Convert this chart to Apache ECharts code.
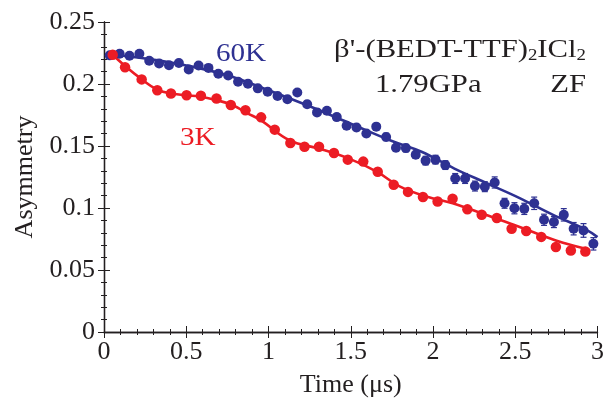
<!DOCTYPE html>
<html>
<head>
<meta charset="utf-8">
<script src="https://cdn.jsdelivr.net/npm/echarts@6/dist/echarts.min.js"></script>
<style>
  html, body { margin: 0; padding: 0; background: #fff; }
  #chart { width: 607px; height: 403px; }
</style>
</head>
<body>
<div id="chart"></div>
<script>
var SERIF = "'Liberation Serif', 'Times New Roman', serif";
var INK = '#231f20';
var BLUE = '#2e3192';
var RED = '#ec1c24';

// 60K data
var t60 = [0.035, 0.095, 0.155, 0.215, 0.275, 0.335, 0.395, 0.455, 0.515, 0.575,
           0.635, 0.695, 0.755, 0.815, 0.875, 0.935, 0.995, 1.055, 1.115, 1.175,
           1.235, 1.295, 1.355, 1.415, 1.475, 1.535, 1.595, 1.655, 1.715, 1.775,
           1.835, 1.895, 1.955, 2.015, 2.075, 2.135, 2.195, 2.255, 2.315, 2.375,
           2.435, 2.495, 2.555, 2.615, 2.675, 2.735, 2.795, 2.855, 2.915, 2.975];
var a60 = [0.2231, 0.2244, 0.2228, 0.2244, 0.2188, 0.2165, 0.2151, 0.2170, 0.2117, 0.2149,
           0.2130, 0.2082, 0.2069, 0.2018, 0.2002, 0.1965, 0.1938, 0.1903, 0.1877, 0.1931,
           0.1837, 0.1771, 0.1784, 0.1733, 0.1664, 0.1649, 0.1601, 0.1656, 0.1573, 0.1486,
           0.1483, 0.1430, 0.1382, 0.1390, 0.1346, 0.1238, 0.1238, 0.1177, 0.1172, 0.1206,
           0.1038, 0.0998, 0.0993, 0.1038, 0.0905, 0.0887, 0.0945, 0.0833, 0.0819, 0.0711];
var e60 = [0.002, 0.002, 0.002, 0.002, 0.002, 0.002, 0.002, 0.002, 0.002, 0.002,
           0.002, 0.002, 0.002, 0.002, 0.002, 0.002, 0.002, 0.002, 0.002, 0.002,
           0.0025, 0.0025, 0.0025, 0.0025, 0.0025, 0.0025, 0.0025, 0.0025, 0.003, 0.003,
           0.003, 0.003, 0.0035, 0.0035, 0.0035, 0.004, 0.004, 0.004, 0.004, 0.0045,
           0.004, 0.0045, 0.0045, 0.005, 0.0045, 0.0045, 0.005, 0.005, 0.0055, 0.005];

// 3K data
var t3 = [0.053, 0.128, 0.229, 0.324, 0.407, 0.502, 0.589, 0.684, 0.771, 0.860,
          0.955, 1.038, 1.133, 1.219, 1.307, 1.398, 1.482, 1.576, 1.664, 1.761,
          1.848, 1.939, 2.028, 2.119, 2.209, 2.296, 2.388, 2.478, 2.567, 2.658,
          2.747, 2.838, 2.926];
var a3 = [0.2236, 0.2135, 0.2037, 0.1949, 0.1923, 0.1909, 0.1905, 0.1883, 0.1831, 0.1789,
          0.1731, 0.1632, 0.1524, 0.1494, 0.1494, 0.1444, 0.1390, 0.1374, 0.1292, 0.1188,
          0.1130, 0.1089, 0.1052, 0.1074, 0.0989, 0.0945, 0.0919, 0.0832, 0.0815, 0.0767,
          0.0685, 0.0657, 0.0649];

// fit curves
var fit60T = [0.03, 0.25, 0.5, 0.75, 1.0, 1.25, 1.5, 1.75, 1.93, 2.13, 2.33, 2.53, 2.73, 2.93, 3.0];
var fit60A = [0.2240, 0.2205, 0.2150, 0.2070, 0.1950, 0.1820, 0.1680, 0.1540, 0.1454, 0.1318, 0.1198, 0.1078, 0.0945, 0.0825, 0.0765];
var fit3T = [0.04, 0.13, 0.23, 0.32, 0.40, 0.50, 0.58, 0.68, 0.78, 0.87, 0.95, 1.13, 1.31, 1.49, 1.66, 1.80, 1.96, 2.12, 2.32, 2.49, 2.65, 2.79, 2.95];
var fit3A = [0.2252, 0.2143, 0.2037, 0.1957, 0.1925, 0.1909, 0.1899, 0.1871, 0.1831, 0.1765, 0.1710, 0.1544, 0.1478, 0.1398, 0.1292, 0.1172, 0.1092, 0.1038, 0.0945, 0.0865, 0.0785, 0.0719, 0.0665];

function zip(xs, ys){
    return xs.map(function(x, i){ return [x, ys[i]]; });
}

var chart = echarts.init(document.getElementById('chart'), null, {renderer: 'canvas'});

var axisBase = {
    axisLine: {show: true, lineStyle: {color: INK, width: 1.3}},
    axisTick: {show: true, inside: true, length: 6, lineStyle: {color: INK, width: 1}},
    minorTick: {show: true, splitNumber: 5, length: 3, lineStyle: {color: INK, width: 1}},
    splitLine: {show: false},
    minorSplitLine: {show: false}
};

function mkX(pos, labels){
    return Object.assign({}, axisBase, {
        type: 'value', position: pos, min: 0, max: 3, interval: 0.5,
        axisLabel: {show: labels, color: INK, fontFamily: SERIF, fontSize: 26, margin: 7},
        name: labels ? 'Time (\u03bcs)' : '', nameLocation: 'middle', nameGap: 40,
        nameTextStyle: {color: INK, fontFamily: SERIF, fontSize: 26}
    });
}
function mkY(pos, labels){
    return Object.assign({}, axisBase, {
        type: 'value', position: pos, min: 0, max: 0.25, interval: 0.05,
        axisLabel: {show: labels, color: INK, fontFamily: SERIF, fontSize: 26, margin: 9},
        name: labels ? 'Asymmetry' : '', nameLocation: 'middle', nameGap: 62,
        nameTextStyle: {color: INK, fontFamily: SERIF, fontSize: 26}
    });
}

var errorSeries = {
    type: 'custom',
    data: t60.map(function(t, i){ return [t, a60[i], e60[i]]; }),
    renderItem: function(params, api){
        var x = api.value(0), y = api.value(1), e = api.value(2);
        var hi = api.coord([x, y + e]), lo = api.coord([x, y - e]);
        var cap = 3;
        var st = {stroke: BLUE, lineWidth: 1.2};
        return {type: 'group', children: [
            {type: 'line', shape: {x1: hi[0], y1: hi[1], x2: lo[0], y2: lo[1]}, style: st},
            {type: 'line', shape: {x1: hi[0] - cap, y1: hi[1], x2: hi[0] + cap, y2: hi[1]}, style: st},
            {type: 'line', shape: {x1: lo[0] - cap, y1: lo[1], x2: lo[0] + cap, y2: lo[1]}, style: st}
        ]};
    },
    silent: true, z: 3
};

var annFont = '26px ' + SERIF;
var stretch = 1.18;

var option = {
    backgroundColor: '#fff',
    animation: false,
    textStyle: {fontFamily: SERIF},
    grid: {left: 104, right: 9, top: 22, bottom: 68, containLabel: false},
    xAxis: [mkX('bottom', true), mkX('top', false)],
    yAxis: [mkY('left', true), mkY('right', false)],
    series: [
        {type: 'line', data: zip(fit60T, fit60A), smooth: 0.4, showSymbol: false,
         lineStyle: {color: BLUE, width: 2.6}, z: 2, silent: true},
        {type: 'line', data: zip(fit3T, fit3A), smooth: 0.4, showSymbol: false,
         lineStyle: {color: RED, width: 2.6}, z: 2, silent: true},
        errorSeries,
        {type: 'scatter', data: zip(t60, a60), symbol: 'circle', symbolSize: 10,
         itemStyle: {color: BLUE, opacity: 1}, z: 4},
        {type: 'scatter', data: zip(t3, a3), symbol: 'circle', symbolSize: 10.5,
         itemStyle: {color: RED, opacity: 1}, z: 4}
    ],
    graphic: [
        {type: 'text', x: 216, y: 54, scaleX: 1.12, style: {text: '60K', font: annFont, fill: BLUE, align: 'left', verticalAlign: 'middle'}},
        {type: 'text', x: 180, y: 138, scaleX: 1.12, style: {text: '3K', font: annFont, fill: RED, align: 'left', verticalAlign: 'middle'}},
        {type: 'text', x: 586, y: 50, scaleX: stretch, style: {
            text: "{m|\u03b2'-(BEDT-TTF)}{s|2}{m|ICl}{s|2}",
            align: 'right', verticalAlign: 'middle',
            rich: {
                m: {font: annFont, fill: INK, lineHeight: 28},
                s: {font: '16px ' + SERIF, fill: INK, lineHeight: 15, verticalAlign: 'bottom'}
            }
        }},
        {type: 'text', x: 375, y: 85, scaleX: stretch, style: {text: '1.79GPa', font: annFont, fill: INK, align: 'left', verticalAlign: 'middle'}},
        {type: 'text', x: 586, y: 85, scaleX: stretch, style: {text: 'ZF', font: annFont, fill: INK, align: 'right', verticalAlign: 'middle'}}
    ]
};

chart.setOption(option);
</script>
</body>
</html>
